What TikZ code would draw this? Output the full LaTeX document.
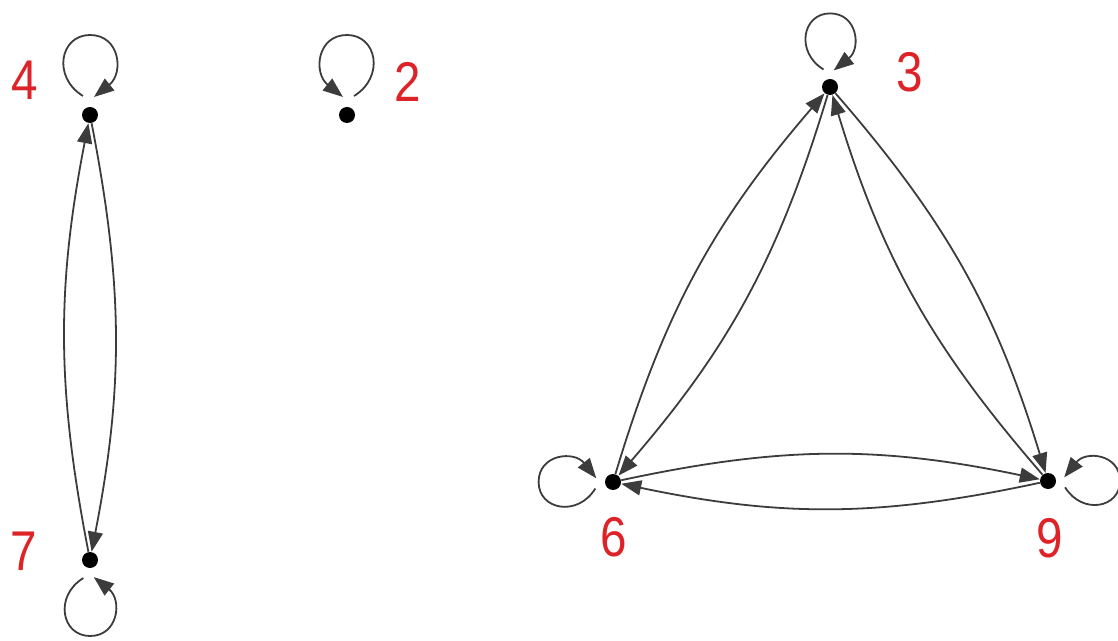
\documentclass[tikz,border=0pt]{standalone}
\usepackage{fontspec}
\setmainfont{Liberation Sans}
\usetikzlibrary{arrows.meta}
\definecolor{lblred}{RGB}{222,35,40}
\definecolor{edgegray}{RGB}{60,60,60}
\tikzset{
  vtx/.style={circle, fill=black, inner sep=0pt, minimum size=8pt},
  lbl/.style={text=lblred, font=\fontsize{28}{30}\selectfont, inner sep=0pt},
  edge/.style={draw=edgegray, line width=0.9pt, -{Triangle[length=10pt,width=7.5pt]}},
}
\newcommand{\loopat}[2]{%
  \begin{scope}[shift={(#1.center)},#2]
    \draw[edge] (-7,19) .. controls (-38,38) and (-30,80) .. (0,80)
                .. controls (30,80) and (34,42) .. (4,18);
  \end{scope}}
\begin{document}
\begin{tikzpicture}[x=0.5pt,y=0.5pt]
\useasboundingbox (0,0) rectangle (1118,-641);
% vertices
\node[vtx] (n4) at (90,-115) {};
\node[vtx] (n7) at (90,-560) {};
\node[vtx] (n2) at (347,-115) {};
\node[vtx] (n3) at (830,-87) {};
\node[vtx] (n6) at (613,-482) {};
\node[vtx] (n9) at (1048,-481) {};
% labels
\node[lbl] (l4) at (25,-80) {\scalebox{0.85}[1]{4}};
\node[lbl] (l7) at (24,-551) {\scalebox{0.85}[1]{7}};
\node[lbl] (l2) at (408,-82) {\scalebox{0.85}[1]{2}};
\node[lbl] (l3) at (910,-72) {\scalebox{0.85}[1]{3}};
\node[lbl] (l6) at (614,-537) {\scalebox{0.85}[1]{6}};
\node[lbl] (l9) at (1050,-538) {\scalebox{0.85}[1]{9}};
% edges
\draw[edge] (n7) to[bend left=11] (n4);
\draw[edge] (n4) to[bend left=11] (n7);
\draw[edge] (n6) to[bend left=12] (n3);
\draw[edge] (n3) to[bend left=12] (n6);
\draw[edge] (n3) to[bend left=12] (n9);
\draw[edge] (n9) to[bend left=12] (n3);
\draw[edge] (n6) to[bend left=12] (n9);
\draw[edge] (n9) to[bend left=12] (n6);
% self loops
\loopat{n4}{}
\loopat{n2}{xscale=-1}
\loopat{n3}{scale=0.92}
\loopat{n7}{yscale=-1, scale=0.95}
\loopat{n6}{rotate=90, scale=0.93}
\loopat{n9}{rotate=90, yscale=-1, scale=0.9}
\end{tikzpicture}
\end{document}
